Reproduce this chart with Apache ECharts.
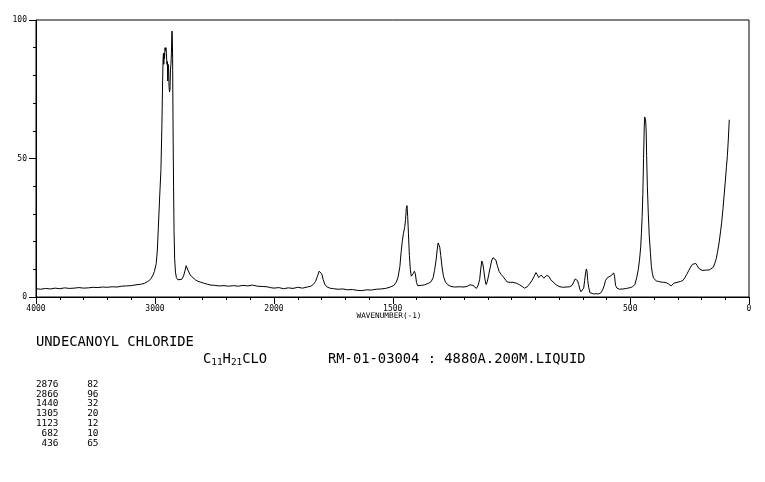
<!DOCTYPE html>
<html><head><meta charset="utf-8">
<script src="https://cdn.jsdelivr.net/npm/echarts@6/dist/echarts.min.js"></script>
<style>html,body{margin:0;padding:0;background:#fff}#c{width:765px;height:482px}</style>
</head><body><div id="c"></div>
<script>
// Raman spectrum trace (wavenumber, intensity)
const wavenumbers = [
4000,3960,3920,3880,3840,3800,3760,3720,3680,3640,3600,3560,3520,3480,3440,3400,3360,3320,3280,3240,3200,3160,3120,3090,3060,3040,3020,3005,2990,2980,2972,2962,2950,2942,2936,2932,2929,2926,2923,2920,2916,2912,2908,2904,2900,2896,2893,2890,2886,2882,2878,2874,2870,2866,2862,2858,2855,2852,2848,2844,2840,2835,2828,2820,2808,2792,2775,2760,2748,2738,2730,2720,2708,2695,2680,2660,2640,2620,2590,2560,2530,2500,2460,2420,2380,2340,2300,2260,2220,2180,2140,2100,2060,2030,
2000,1980,1960,1940,1920,1900,1880,1860,1845,1835,1825,1817,1810,1805,1799,1793,1786,1778,1765,1750,1730,1710,1690,1670,1650,1630,1610,1590,1570,1550,1530,1510,1495,1485,1478,1470,1465,1460,1455,1450,1446,1443,1440,1437,1434,1430,1426,1422,1418,1414,1409,1405,1400,1395,1388,1380,1374,1366,1358,1348,1338,1330,1324,1318,1313,1309,1306,1302,1298,1292,1286,1278,1268,1255,1240,1220,1200,1185,1175,1168,1162,1155,1148,1140,1134,1129,1125,1121,1117,1112,1107,1102,1096,1090,1084,1078,1072,1066,1060,1052,1044,1036,1028,1018,1005,994,980,966,955,945,935,925,915,905,897,891,886,880,875,870,864,858,852,847,842,835,825,812,800,785,770,755,745,738,732,727,722,717,712,708,702,696,692,688,685,682,679,675,670,664,655,645,635,625,617,610,604,596,588,580,574,570,566,562,556,545,530,515,500,490,480,472,466,461,456,453,450,447,444,441,439,437,435,433,431,428,424,420,415,411,407,402,397,390,380,370,360,350,340,333,328,322,316,308,298,288,278,270,262,254,246,238,230,224,218,212,206,198,190,182,174,166,158,150,144,138,132,126,120,115,110,105,100,95,91,87,83];
const intensities = [
3.0,2.8,3.1,2.9,3.2,3.0,3.3,3.1,3.2,3.4,3.2,3.3,3.5,3.4,3.6,3.5,3.7,3.6,3.9,4.0,4.1,4.4,4.6,4.9,5.6,6.3,7.6,9.2,12,17,25,35,46,62,78,86,88,84,88,86,90,89,90,88,84,85,78,84,83,76,74,75,82,84,88,96,95,86,60,40,24,14,9,7,6.2,6.0,6.4,7.6,9.5,11.3,11.0,9.4,8.3,7.5,6.8,6.2,5.7,5.4,5.0,4.6,4.3,4.2,4.0,4.1,3.9,4.1,3.9,4.2,4.0,4.3,3.9,3.8,3.7,3.4,
3.2,3.4,3.0,3.3,3.1,3.5,3.2,3.6,3.9,4.5,5.6,7.5,9.3,9.5,8.4,6.3,4.6,3.7,3.2,3.0,2.8,2.9,2.6,2.7,2.4,2.3,2.6,2.5,2.8,2.9,3.1,3.6,4.2,5.4,7.0,11,16,20,23,25,28,32,33,29,23,15,10,7.5,7.2,8.4,9.3,8.5,5.2,4.1,3.8,4.2,4.8,4.4,4.8,5.0,5.6,7.0,9.6,13,17,19.5,20.2,18,15,10.5,7.3,5.4,4.4,3.8,3.6,3.7,3.6,3.9,4.4,4.8,4.2,3.5,3.1,4.3,6.4,10.5,13,12,9.8,6.5,4.5,5.5,8,10.5,13,14.2,14.1,13.4,11.4,9.2,8.2,7.4,6.5,5.4,5.3,5.3,5.0,4.4,3.8,3.2,3.6,4.6,5.8,7.4,8.8,8.0,7.0,7.2,7.9,7.6,6.8,7.2,7.8,8.2,7.4,6.3,5.4,4.4,3.8,3.5,3.6,3.7,4.2,5.4,6.5,6.7,5.9,4.5,2.8,1.9,1.8,3.2,6.0,8.7,10.1,9.3,6.0,3.5,1.6,1.2,1.1,1.2,1.1,1.4,2.4,4.0,6.0,7.0,7.4,7.7,8.4,8.7,7.5,4.2,3.2,2.8,2.9,3.1,3.4,3.7,4.6,7.3,10,13.4,18,23,29,37,50,61.5,65,65,63.5,60,51,40,30,22,15.8,11,8.6,6.8,6.1,5.8,5.6,5.4,5.3,5.2,4.8,4.3,4.0,4.4,5.0,5.3,5.4,5.6,6.0,7.0,8.2,9.5,10.8,11.8,12.4,12.1,11.3,10.4,9.7,9.6,9.5,9.7,9.7,9.8,10.0,10.8,12.2,13.8,16.5,19.5,23.5,27,31.5,36.5,41.5,47,51,57,64];

const yTickLabels = [0, 50, 100];
const xLabelsHigh = [4000, 3000];
const xLabelsLow = [2000, 1500, 500, 0];
const peakPositions = ['2876', '2866', '1440', '1305', '1123', '682', '436'];
const peakIntensities = ['82', '96', '32', '20', '12', '10', '65'];
const compoundName = 'UNDECANOYL CHLORIDE';
const sampleInfo = 'RM-01-03004 : 4880A.200M.LIQUID';
const axisTitle = 'WAVENUMBER(-1)';

const highPart = [], lowPart = [];
wavenumbers.forEach((w, i) => {
  if (w >= 2000) highPart.push([w, intensities[i]]);
  if (w <= 2000) lowPart.push([w, intensities[i]]);
});

const FONT = 'DejaVu Sans Mono';
const black = '#000';
const lblStyle = {color: black, fontFamily: FONT, fontSize: 8};

const shortAxis = (grid, min, max, interval) => ({
  gridIndex: grid, type: 'value', min, max, interval, inverse: true, position: 'bottom',
  axisLine: {show: true, onZero: false, lineStyle: {color: black, width: 1}},
  axisTick: {show: true, length: 3, lineStyle: {color: black}},
  axisLabel: {show: false}, splitLine: {show: false}
});
const labelAxis = (grid, min, max, vals) => ({
  gridIndex: grid, type: 'value', min, max, inverse: true, position: 'bottom',
  axisLine: {show: false, onZero: false},
  axisTick: {show: true, length: 7, customValues: vals, lineStyle: {color: black}},
  axisLabel: Object.assign({show: true, margin: 8, customValues: vals, showMinLabel: true, showMaxLabel: true,
    formatter: v => String(v)}, lblStyle),
  splitLine: {show: false}
});

const chart = echarts.init(document.getElementById('c'), null, {renderer: 'canvas'});
chart.setOption({
  animation: false,
  backgroundColor: '#fff',
  grid: [
    {left: 36, top: 20, width: 713, height: 277, show: true, borderColor: black, borderWidth: 1, backgroundColor: 'transparent'},
    {left: 36, top: 20, width: 238, height: 277},
    {left: 274, top: 20, width: 475, height: 277}
  ],
  xAxis: [
    {gridIndex: 0, type: 'value', min: 0, max: 1, show: false},
    shortAxis(1, 2000, 4000, 200),
    labelAxis(1, 2000, 4000, xLabelsHigh),
    shortAxis(2, 0, 2000, 100),
    labelAxis(2, 0, 2000, xLabelsLow)
  ],
  yAxis: [
    {gridIndex: 0, type: 'value', min: 0, max: 100, interval: 50,
     axisLine: {show: true, lineStyle: {color: black}},
     axisTick: {show: true, length: 7, lineStyle: {color: black}},
     minorTick: {show: true, splitNumber: 5, length: 3, lineStyle: {color: black}},
     axisLabel: Object.assign({margin: 9, formatter: v => yTickLabels.includes(v) ? String(v) : ''}, lblStyle),
     splitLine: {show: false}},
    {gridIndex: 1, type: 'value', min: 0, max: 100, show: false},
    {gridIndex: 2, type: 'value', min: 0, max: 100, show: false}
  ],
  series: [
    {type: 'line', xAxisIndex: 1, yAxisIndex: 1, data: highPart, showSymbol: false, silent: true,
     lineStyle: {color: black, width: 1}},
    {type: 'line', xAxisIndex: 3, yAxisIndex: 2, data: lowPart, showSymbol: false, silent: true,
     lineStyle: {color: black, width: 1}}
  ],
  graphic: [
    {type: 'text', x: 389, y: 316, style: {text: axisTitle, fontFamily: FONT, fontSize: 7.7, fill: black, align: 'center', verticalAlign: 'middle'}},
    {type: 'text', x: 36, y: 342.5, style: {text: compoundName, fontFamily: FONT, fontSize: 13.8, fill: black, align: 'left', verticalAlign: 'middle'}},
    {type: 'text', x: 203, y: 351, style: {
      text: '{a|C}{b|11}{a|H}{b|21}{a|CLO}', verticalAlign: 'top', align: 'left',
      rich: {
        a: {fontFamily: FONT, fontSize: 13.8, lineHeight: 16, fill: black, color: black},
        b: {fontFamily: FONT, fontSize: 9.4, lineHeight: 10, verticalAlign: 'bottom', fill: black, color: black}
      }}},
    {type: 'text', x: 328, y: 359, style: {text: sampleInfo, fontFamily: FONT, fontSize: 13.8, fill: black, align: 'left', verticalAlign: 'middle'}},
    {type: 'text', x: 58.5, y: 379.5, style: {text: peakPositions.join('\n'), fontFamily: FONT, fontSize: 9.4, lineHeight: 9.8, fill: black, align: 'right', verticalAlign: 'top'}},
    {type: 'text', x: 98.5, y: 379.5, style: {text: peakIntensities.join('\n'), fontFamily: FONT, fontSize: 9.4, lineHeight: 9.8, fill: black, align: 'right', verticalAlign: 'top'}}
  ]
});
</script>
</body></html>
